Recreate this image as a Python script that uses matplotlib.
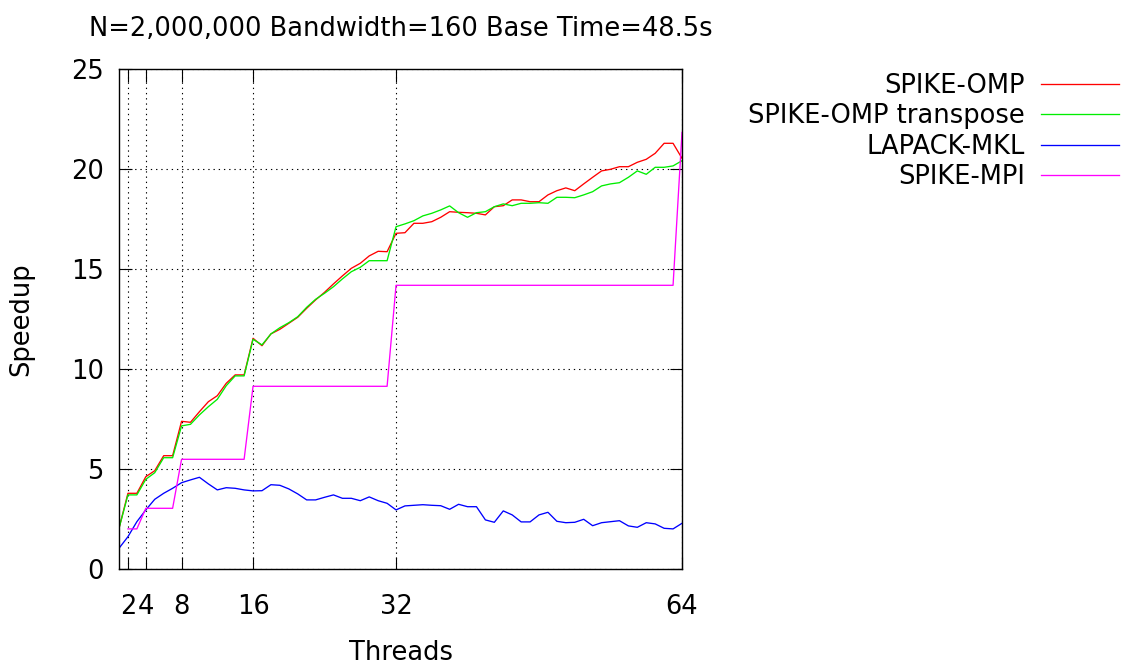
import matplotlib
matplotlib.use("Agg")
import matplotlib.pyplot as plt

threads = list(range(1, 65))

spike_omp = [2.05, 3.8, 3.8, 4.63, 4.93, 5.68, 5.68, 7.4, 7.35, 7.88,
             8.38, 8.68, 9.3, 9.72, 9.72, 11.55, 11.18, 11.77, 12.0, 12.3,
             12.6, 13.05, 13.47, 13.85, 14.27, 14.67, 15.05, 15.3, 15.67, 15.9,
             15.88, 16.8, 16.83, 17.3, 17.3, 17.38, 17.6, 17.88, 17.85, 17.83,
             17.8, 17.72, 18.13, 18.18, 18.47, 18.47, 18.38, 18.38, 18.72, 18.93,
             19.07, 18.93, 19.27, 19.6, 19.92, 20.0, 20.13, 20.13, 20.35, 20.5,
             20.8, 21.3, 21.3, 20.55]

spike_omp_transpose = [2.05, 3.72, 3.72, 4.5, 4.83, 5.58, 5.58, 7.17, 7.25, 7.72,
                       8.13, 8.5, 9.18, 9.67, 9.67, 11.5, 11.22, 11.77, 12.08, 12.33,
                       12.63, 13.1, 13.5, 13.8, 14.13, 14.52, 14.88, 15.1, 15.43, 15.43,
                       15.43, 17.13, 17.27, 17.43, 17.67, 17.8, 17.97, 18.17, 17.83, 17.6,
                       17.83, 17.88, 18.13, 18.27, 18.18, 18.3, 18.3, 18.33, 18.3, 18.6,
                       18.6, 18.58, 18.72, 18.88, 19.17, 19.27, 19.33, 19.6, 19.92, 19.75,
                       20.1, 20.1, 20.17, 20.43]

lapack_mkl = [1.05, 1.63, 2.38, 2.97, 3.5, 3.8, 4.05, 4.33, 4.47, 4.6,
              4.27, 3.97, 4.08, 4.05, 3.97, 3.92, 3.93, 4.23, 4.2, 4.02,
              3.77, 3.47, 3.47, 3.6, 3.72, 3.55, 3.55, 3.43, 3.62, 3.43,
              3.3, 2.97, 3.17, 3.2, 3.23, 3.2, 3.18, 3.0, 3.25, 3.13,
              3.13, 2.47, 2.35, 2.92, 2.72, 2.37, 2.37, 2.72, 2.85, 2.4,
              2.33, 2.35, 2.5, 2.18, 2.33, 2.38, 2.43, 2.17, 2.1, 2.33,
              2.27, 2.05, 2.02, 2.3]

mpi_threads = list(range(2, 65))
spike_mpi = [2.02, 2.02,
             3.05, 3.05, 3.05, 3.05,
             5.5, 5.5, 5.5, 5.5, 5.5, 5.5, 5.5, 5.5,
             9.15, 9.15, 9.15, 9.15, 9.15, 9.15, 9.15, 9.15,
             9.15, 9.15, 9.15, 9.15, 9.15, 9.15, 9.15, 9.15,
             14.2, 14.2, 14.2, 14.2, 14.2, 14.2, 14.2, 14.2,
             14.2, 14.2, 14.2, 14.2, 14.2, 14.2, 14.2, 14.2,
             14.2, 14.2, 14.2, 14.2, 14.2, 14.2, 14.2, 14.2,
             14.2, 14.2, 14.2, 14.2, 14.2, 14.2, 14.2, 14.2,
             21.85]

x_ticks = [2, 4, 8, 16, 32, 64]
y_ticks = [0, 5, 10, 15, 20, 25]
title = "N=2,000,000 Bandwidth=160 Base Time=48.5s"

FS = 18.5
plt.rcParams['font.family'] = ['DejaVu Sans']

fig = plt.figure(figsize=(11.21, 6.66), dpi=100)
W, H = 1121, 666
left, right, top, bottom = 119, 682, 69.3, 569.3
ax = fig.add_axes([left / W, 1 - bottom / H, (right - left) / W, (bottom - top) / H])

lw = 0.95
ax.plot(threads, spike_omp, color='#ff0000', lw=lw, label='SPIKE-OMP')
ax.plot(threads, spike_omp_transpose, color='#00ee00', lw=lw, label='SPIKE-OMP transpose')
ax.plot(threads, lapack_mkl, color='#0000ff', lw=lw, label='LAPACK-MKL')
ax.plot(mpi_threads, spike_mpi, color='#ff00ff', lw=lw, label='SPIKE-MPI')

ax.set_xlim(1, 64)
ax.set_ylim(0, 25)
ax.set_xticks(x_ticks)
ax.set_yticks(y_ticks)
ax.tick_params(axis='both', direction='in', length=9, width=0.8, top=True, right=True,
               labelsize=FS, color='black')
ax.tick_params(axis='x', pad=18)
ax.tick_params(axis='y', pad=11)
ax.grid(True, color='black', lw=0.8, linestyle=(0, (1.2, 3.5)))
for s in ax.spines.values():
    s.set_linewidth(1.0)
    s.set_color('black')

ax.set_xlabel('Threads', fontsize=FS, labelpad=14)
ax.set_ylabel('Speedup', fontsize=FS, labelpad=26)
ax.set_title(title, fontsize=FS, pad=24)

leg = ax.legend(loc='upper right', bbox_to_anchor=(1119 / W, 1 - 73 / H),
                bbox_transform=fig.transFigure, frameon=False, markerfirst=False,
                fontsize=FS, handlelength=3.03, handletextpad=0.62,
                labelspacing=0.17, borderpad=0, borderaxespad=0)

fig.savefig('out.png', dpi=100)
